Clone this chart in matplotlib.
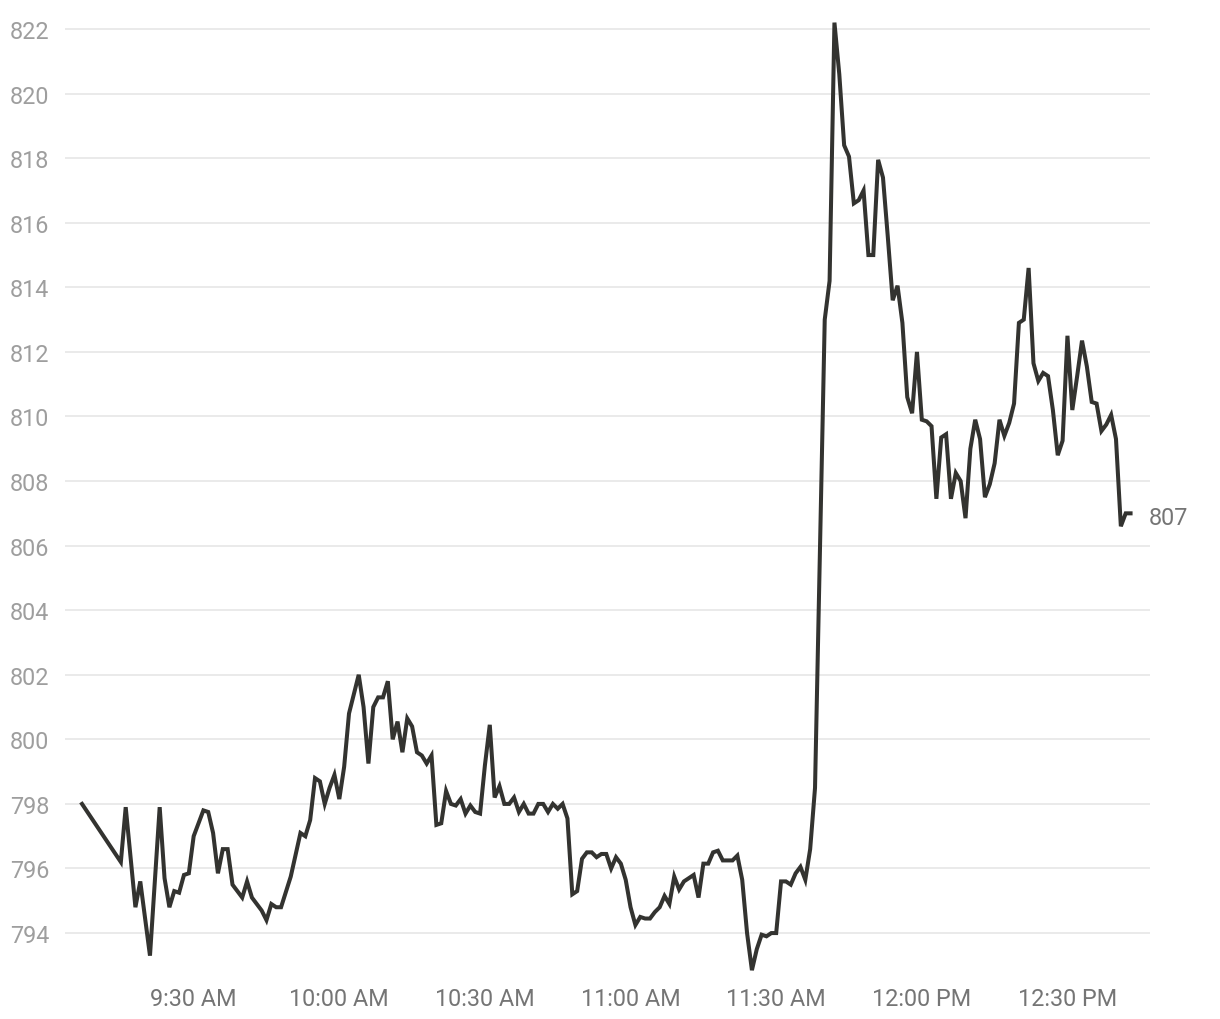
import pandas as pd
import matplotlib
matplotlib.use("Agg")
import matplotlib.pyplot as plt
import matplotlib.dates as mdates
import matplotlib.ticker as mticker

plt.rcParams['font.family'] = ['Roboto', 'DejaVu Sans']

LINE = "#333330"
GRID = "#e6e6e6"
YLAB = "#9e9e9e"
XLAB = "#757575"

# minute prices
TIMES = [
    "09:07", "09:15", "09:16", "09:18", "09:19", "09:21", "09:23", "09:24", "09:25", "09:26",
    "09:27", "09:28", "09:29", "09:30", "09:32", "09:33", "09:34", "09:35", "09:36", "09:37",
    "09:38", "09:40", "09:41", "09:42", "09:44", "09:45", "09:46", "09:47", "09:48", "09:50",
    "09:52", "09:53", "09:54", "09:55", "09:56", "09:57", "09:58", "09:59", "10:00", "10:01",
    "10:02", "10:04", "10:05", "10:06", "10:07", "10:08", "10:09", "10:10", "10:11", "10:12",
    "10:13", "10:14", "10:15", "10:16", "10:17", "10:18", "10:19", "10:20", "10:21", "10:22",
    "10:23", "10:24", "10:25", "10:26", "10:27", "10:28", "10:29", "10:30", "10:31", "10:32",
    "10:33", "10:34", "10:35", "10:36", "10:37", "10:38", "10:39", "10:40", "10:41", "10:42",
    "10:43", "10:44", "10:45", "10:46", "10:47", "10:48", "10:49", "10:50", "10:51", "10:52",
    "10:53", "10:54", "10:55", "10:56", "10:57", "10:58", "10:59", "11:00", "11:01", "11:02",
    "11:03", "11:04", "11:05", "11:06", "11:07", "11:08", "11:09", "11:10", "11:11", "11:12",
    "11:13", "11:14", "11:15", "11:16", "11:17", "11:18", "11:19", "11:20", "11:21", "11:22",
    "11:23", "11:24", "11:25", "11:26", "11:27", "11:28", "11:29", "11:30", "11:31", "11:32",
    "11:33", "11:34", "11:35", "11:36", "11:37", "11:38", "11:40", "11:41", "11:42", "11:43",
    "11:44", "11:45", "11:46", "11:47", "11:48", "11:49", "11:50", "11:51", "11:52", "11:53",
    "11:54", "11:55", "11:56", "11:57", "11:58", "11:59", "12:00", "12:01", "12:02", "12:03",
    "12:04", "12:05", "12:06", "12:07", "12:08", "12:09", "12:10", "12:11", "12:12", "12:13",
    "12:14", "12:15", "12:16", "12:17", "12:18", "12:19", "12:20", "12:21", "12:22", "12:23",
    "12:24", "12:25", "12:26", "12:27", "12:28", "12:29", "12:30", "12:31", "12:32", "12:33",
    "12:34", "12:35", "12:36", "12:37", "12:38", "12:39", "12:40", "12:41", "12:42", "12:43",
]
PRICES = [
    798.0, 796.2, 797.9, 794.8, 795.6, 793.3, 797.9, 795.7, 794.8, 795.3,
    795.25, 795.8, 795.85, 797.0, 797.8, 797.75, 797.1, 795.85, 796.6, 796.6,
    795.5, 795.1, 795.6, 795.1, 794.7, 794.4, 794.9, 794.8, 794.8, 795.75,
    797.1, 797.0, 797.5, 798.8, 798.7, 798.0, 798.5, 798.9, 798.15, 799.15,
    800.8, 802.0, 801.0, 799.25, 801.0, 801.3, 801.3, 801.8, 800.0, 800.55,
    799.6, 800.65, 800.4, 799.6, 799.5, 799.25, 799.5, 797.35, 797.4, 798.4,
    798.0, 797.95, 798.15, 797.7, 797.95, 797.75, 797.7, 799.2, 800.45, 798.2,
    798.55, 798.0, 798.0, 798.2, 797.75, 798.0, 797.7, 797.7, 798.0, 798.0,
    797.75, 798.0, 797.85, 798.0, 797.55, 795.2, 795.3, 796.3, 796.5, 796.5,
    796.35, 796.45, 796.45, 796.0, 796.35, 796.15, 795.65, 794.8, 794.25, 794.5,
    794.45, 794.45, 794.65, 794.8, 795.15, 794.9, 795.75, 795.35, 795.6, 795.7,
    795.8, 795.1, 796.15, 796.15, 796.5, 796.55, 796.25, 796.25, 796.25, 796.4,
    795.65, 794.0, 792.85, 793.5, 793.95, 793.9, 794.0, 794.0, 795.6, 795.6,
    795.5, 795.85, 796.05, 795.65, 796.6, 798.5, 813.0, 814.2, 822.2, 820.6,
    818.4, 818.05, 816.6, 816.7, 817.0, 815.0, 815.0, 817.95, 817.4, 815.55,
    813.6, 814.05, 812.9, 810.6, 810.1, 812.0, 809.9, 809.85, 809.7, 807.45,
    809.35, 809.45, 807.45, 808.25, 808.0, 806.85, 809.0, 809.9, 809.3, 807.5,
    807.9, 808.55, 809.9, 809.4, 809.8, 810.4, 812.9, 813.0, 814.6, 811.65,
    811.1, 811.35, 811.25, 810.2, 808.8, 809.25, 812.5, 810.2, 811.25, 812.35,
    811.55, 810.45, 810.4, 809.55, 809.75, 810.05, 809.3, 806.6, 807.0, 807.0,
]
Y_TICKS = list(range(794, 823, 2))
X_START, X_END = "09:03:30", "12:47:00"
DAY = "2024-01-02 "

t = pd.to_datetime([DAY + s for s in TIMES])

fig = plt.figure(figsize=(12.2, 10.2), dpi=100)
ax = fig.add_axes([0.0533, 0.0431, 0.8893, 0.9363])

ax.plot(t, PRICES, color=LINE, linewidth=2.9, solid_joinstyle='miter', zorder=3)

ax.set_xlim(pd.Timestamp(DAY + X_START), pd.Timestamp(DAY + X_END))
ax.set_ylim(792.7, 822.28)

ax.set_yticks(Y_TICKS)
ax.yaxis.grid(True, color=GRID, linewidth=1.2)
ax.xaxis.grid(False)
for s in ax.spines.values():
    s.set_visible(False)

ax.xaxis.set_major_locator(mdates.MinuteLocator(byminute=[0, 30]))
ax.xaxis.set_major_formatter(mticker.FuncFormatter(
    lambda v, _: mdates.num2date(v).strftime('%I:%M %p').lstrip('0')))

ax.tick_params(axis='both', length=0, labelsize=16.8)
ax.tick_params(axis='y', pad=39.6, labelcolor=YLAB)
ax.tick_params(axis='x', pad=8.5, labelcolor=XLAB)
for lab in ax.get_yticklabels():
    lab.set_horizontalalignment('left')

ax.annotate(f"{PRICES[-1]:.0f}", xy=(t[-1], PRICES[-1]), xytext=(13, -3),
            textcoords='offset points', va='center', ha='left',
            fontsize=16.8, color=XLAB, annotation_clip=False)

fig.savefig("out.png", dpi=100, facecolor='white')
